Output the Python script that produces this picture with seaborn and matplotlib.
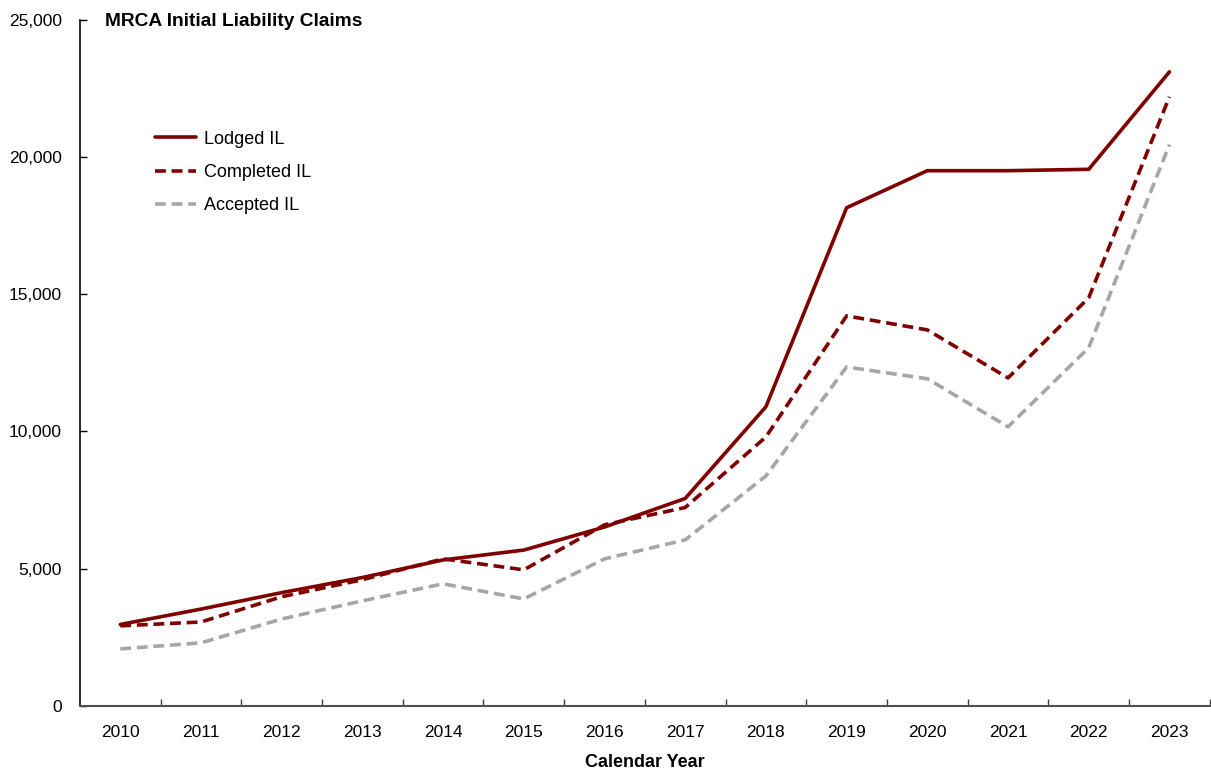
import matplotlib
matplotlib.use("Agg")
import matplotlib.pyplot as plt
import seaborn as sns
import numpy as np
import pandas as pd
from matplotlib.ticker import FuncFormatter, FixedLocator

years = [2010, 2011, 2012, 2013, 2014, 2015, 2016, 2017, 2018, 2019, 2020, 2021, 2022, 2023]
lodged = [2970, 3530, 4130, 4680, 5320, 5680, 6520, 7560, 10900, 18150, 19500, 19500, 19550, 23100]
completed = [2920, 3060, 3980, 4600, 5360, 4960, 6600, 7230, 9800, 14210, 13700, 11950, 14870, 22190]
accepted = [2080, 2300, 3170, 3830, 4450, 3900, 5360, 6050, 8380, 12350, 11920, 10170, 13050, 20450]

series_names = ["Lodged IL", "Completed IL", "Accepted IL"]
series_colors = ["#800000", "#800000", "#A6A6A6"]
series_dashes = [None, (3, 1.6), (3, 1.6)]

sns.set_theme(style="white")
plt.rcParams["font.family"] = ["Liberation Sans", "DejaVu Sans"]
plt.rcParams["text.color"] = "black"
plt.rcParams["axes.labelcolor"] = "black"
plt.rcParams["xtick.color"] = "black"
plt.rcParams["ytick.color"] = "black"

df = pd.DataFrame({
    "idx": list(range(len(years))) * 3,
    "value": lodged + completed + accepted,
    "series": sum([[n] * len(years) for n in series_names], []),
})

fig = plt.figure(figsize=(12.11, 7.72), dpi=100)
ax = fig.add_axes([0.066, 0.0855, 0.933, 0.889])

for name, color, dash in zip(series_names, series_colors, series_dashes):
    sub = df[df["series"] == name]
    sns.lineplot(data=sub, x="idx", y="value", ax=ax, color=color,
                 linewidth=2.6, label=name, legend=False)
    if dash is not None:
        ax.lines[-1].set_dashes(dash)

ax.set_xlim(-0.5, len(years) - 0.5)
ax.set_ylim(0, 25000)
ax.set_yticks(np.arange(0, 25001, 5000))
ax.yaxis.set_major_formatter(FuncFormatter(lambda v, p: f"{int(v):,}"))
ax.set_xticks(range(len(years)))
ax.set_xticklabels([str(y) for y in years])
ax.xaxis.set_minor_locator(FixedLocator(np.arange(0.5, len(years), 1.0)))

ax.tick_params(axis="x", which="major", length=0, pad=14, labelsize=12.5, labelcolor="black")
ax.tick_params(axis="x", which="minor", direction="in", length=5, width=1, color="#404040", bottom=True)
ax.tick_params(axis="y", which="major", direction="in", length=5, width=1, left=True,
               color="black", pad=13, labelsize=12.5, labelcolor="black")

for s in ["top", "right"]:
    ax.spines[s].set_visible(False)
ax.spines["left"].set_color("black")
ax.spines["left"].set_linewidth(1.2)
ax.spines["bottom"].set_color("#505050")
ax.spines["bottom"].set_linewidth(1.5)

ax.set_xlabel("Calendar Year", fontsize=13, fontweight="bold", labelpad=10, color="black")
ax.set_ylabel("")

ax.text(0.022, 0.998, "MRCA Initial Liability Claims", transform=ax.transAxes,
        fontsize=13.8, fontweight="bold", ha="left", va="center", color="black")

handles = ax.lines[:3]
leg = ax.legend(handles, series_names, loc="upper left", bbox_to_anchor=(0.052, 0.862),
                frameon=False, fontsize=13, handlelength=2.3, handletextpad=0.4,
                labelspacing=0.9)
for t in leg.get_texts():
    t.set_color("black")

fig.savefig("out.png", dpi=100, facecolor="white")
